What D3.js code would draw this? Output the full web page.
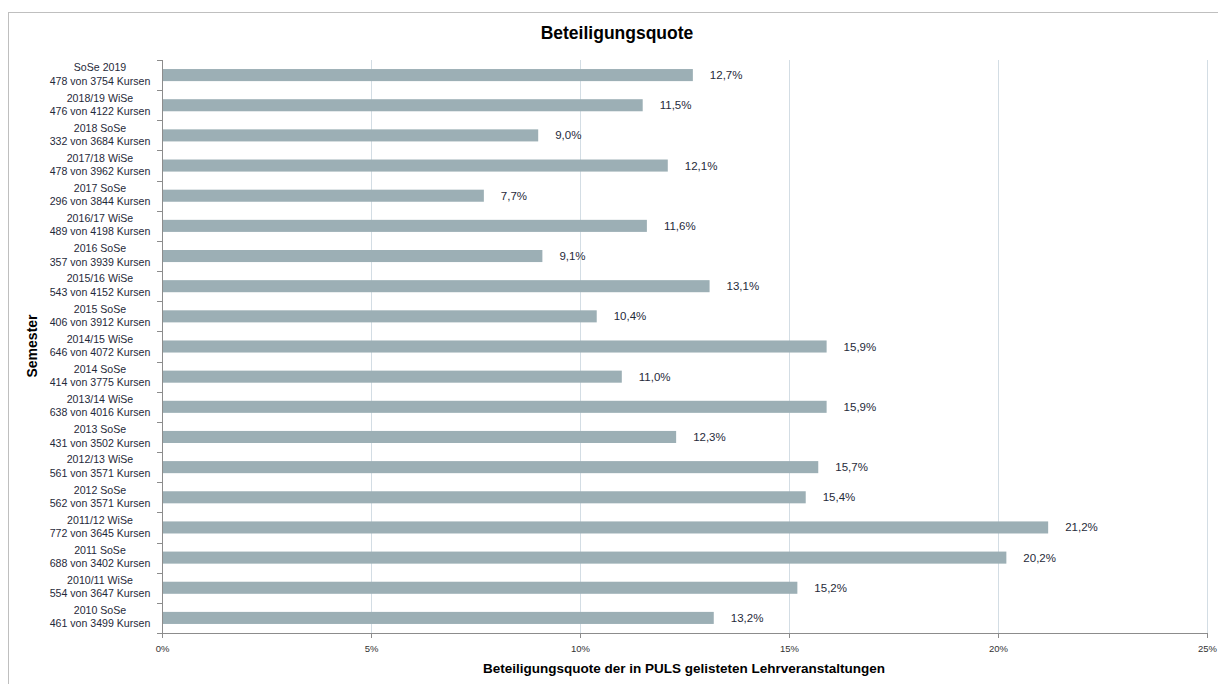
<!DOCTYPE html>
<html>
<head>
<meta charset="utf-8">
<script src="https://cdn.jsdelivr.net/npm/d3@7"></script>
<style>
	body { margin: 0; background: #fff; }
	text { font-family: "Liberation Sans", Arial, sans-serif; }
</style>
</head>
<body>
<div id="chart"></div>
<script>
var semester = ['SoSe 2019', '2018/19 WiSe', '2018 SoSe', '2017/18 WiSe', '2017 SoSe', '2016/17 WiSe',
	'2016 SoSe', '2015/16 WiSe', '2015 SoSe', '2014/15 WiSe', '2014 SoSe', '2013/14 WiSe', '2013 SoSe',
	'2012/13 WiSe', '2012 SoSe', '2011/12 WiSe', '2011 SoSe', '2010/11 WiSe', '2010 SoSe'];
var beteiligt = [478, 476, 332, 478, 296, 489, 357, 543, 406, 646, 414, 638, 431, 561, 562, 772, 688, 554, 461];
var kurse = [3754, 4122, 3684, 3962, 3844, 4198, 3939, 4152, 3912, 4072, 3775, 4016, 3502, 3571, 3571, 3645, 3402, 3647, 3499];
var quote = [12.7, 11.5, 9.0, 12.1, 7.7, 11.6, 9.1, 13.1, 10.4, 15.9, 11.0, 15.9, 12.3, 15.7, 15.4, 21.2, 20.2, 15.2, 13.2];
var xTicks = [0, 5, 10, 15, 20, 25];

var width = 1218, height = 684;
var plot = {left: 162, right: 1207, top: 60, bottom: 633};

var svg = d3.select('#chart').append('svg')
	.attr('width', width)
	.attr('height', height);

// chart frame (runs off the right and bottom edge like in the screenshot)
svg.append('rect')
	.attr('x', 8.5).attr('y', 12.5)
	.attr('width', width).attr('height', height)
	.attr('fill', 'none')
	.attr('stroke', '#bfbfbf');

var x = d3.scaleLinear().domain([0, 25]).range([plot.left, plot.right]);
var y = d3.scaleBand().domain(semester).range([plot.top, plot.bottom]).paddingInner(0.6).paddingOuter(0.3);

// gridlines
svg.append('g')
	.selectAll('line')
	.data(xTicks.slice(1))
	.enter().append('line')
	.attr('x1', function(d) { return Math.round(x(d)) + 0.5; })
	.attr('x2', function(d) { return Math.round(x(d)) + 0.5; })
	.attr('y1', plot.top).attr('y2', plot.bottom)
	.attr('stroke', '#d3dde4');

// bars
svg.append('g')
	.selectAll('rect')
	.data(quote)
	.enter().append('rect')
	.attr('x', x(0))
	.attr('y', function(d, i) { return y(semester[i]); })
	.attr('width', function(d) { return x(d) - x(0); })
	.attr('height', y.bandwidth())
	.attr('fill', '#9cafb5');

// value labels
svg.append('g')
	.selectAll('text')
	.data(quote)
	.enter().append('text')
	.attr('x', function(d) { return x(d) + 17; })
	.attr('y', function(d, i) { return y(semester[i]) + y.bandwidth() / 2; })
	.attr('dy', '0.35em')
	.attr('font-size', 11.5)
	.attr('fill', '#1f2a3a')
	.text(function(d) { return d3.format('.1f')(d).replace('.', ',') + '%'; });

// x axis
var xAxis = svg.append('g')
	.attr('transform', 'translate(0,' + plot.bottom + ')')
	.call(d3.axisBottom(x).tickValues(xTicks).tickSize(5).tickSizeOuter(0)
		.tickFormat(function(d) { return d + '%'; }));
xAxis.select('.domain').attr('stroke', '#8c8c8c');
xAxis.selectAll('.tick line').attr('stroke', '#8c8c8c');
xAxis.selectAll('.tick text')
	.attr('font-size', 9.5)
	.attr('fill', '#333')
	.attr('dy', '1.2em')
	.attr('font-family', '"Liberation Sans", Arial, sans-serif');

// y axis: line plus ticks between the categories
var yAxis = svg.append('g');
yAxis.append('line')
	.attr('x1', plot.left + 0.5).attr('x2', plot.left + 0.5)
	.attr('y1', plot.top).attr('y2', plot.bottom)
	.attr('stroke', '#8c8c8c');
var step = y.step();
yAxis.selectAll('.ytick')
	.data(d3.range(semester.length + 1))
	.enter().append('line')
	.attr('x1', plot.left - 5).attr('x2', plot.left)
	.attr('y1', function(i) { return Math.round(plot.top + i * step) + 0.5; })
	.attr('y2', function(i) { return Math.round(plot.top + i * step) + 0.5; })
	.attr('stroke', '#8c8c8c');

// category labels, two lines each
var cat = svg.append('g')
	.selectAll('text')
	.data(semester)
	.enter().append('text')
	.attr('text-anchor', 'middle')
	.attr('font-size', 10.6)
	.attr('fill', '#1f2a3a')
	.attr('x', 100)
	.attr('y', function(d) { return y(d) + y.bandwidth() / 2; });
cat.append('tspan')
	.attr('x', 100).attr('dy', '-0.35em')
	.text(function(d) { return d; });
cat.append('tspan')
	.attr('x', 100).attr('dy', '1.25em')
	.text(function(d, i) { return beteiligt[i] + ' von ' + kurse[i] + ' Kursen'; });

// titles
svg.append('text')
	.attr('x', 617).attr('y', 39)
	.attr('text-anchor', 'middle')
	.attr('font-size', 17.5)
	.attr('font-weight', 'bold')
	.attr('fill', '#000')
	.text('Beteiligungsquote');

svg.append('text')
	.attr('x', 684).attr('y', 673)
	.attr('text-anchor', 'middle')
	.attr('font-size', 13.5)
	.attr('font-weight', 'bold')
	.attr('fill', '#000')
	.text('Beteiligungsquote der in PULS gelisteten Lehrveranstaltungen');

svg.append('text')
	.attr('transform', 'translate(37,346) rotate(-90)')
	.attr('text-anchor', 'middle')
	.attr('font-size', 14)
	.attr('font-weight', 'bold')
	.attr('fill', '#000')
	.text('Semester');
</script>
</body>
</html>
